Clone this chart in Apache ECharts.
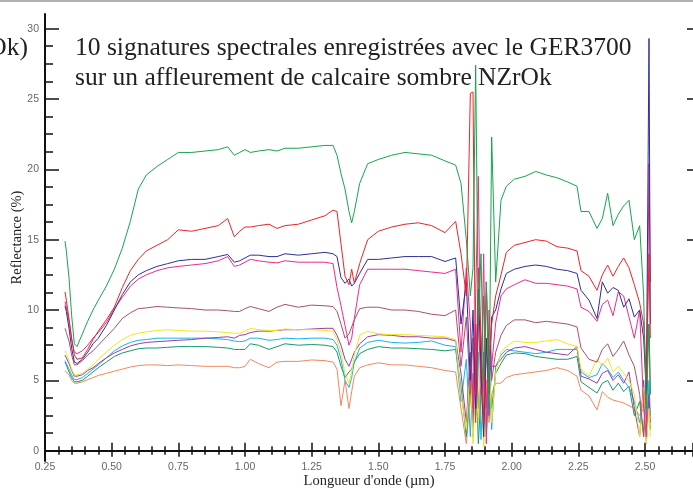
<!DOCTYPE html>
<html>
<head>
<meta charset="utf-8">
<script src="https://cdn.jsdelivr.net/npm/echarts@6/dist/echarts.min.js"></script>
<style>html,body{margin:0;padding:0;background:#fff}#c{width:693px;height:489px}</style>
</head>
<body>
<div id="c"></div>
<script>
// Wavelength (µm)
const wavelengths = [
  0.325,0.33,0.34,0.35,0.36,0.37,0.39,0.41,0.43,0.45,
  0.48,0.51,0.54,0.57,0.60,0.63,0.67,0.71,0.75,0.80,
  0.85,0.90,0.935,0.96,0.98,1.00,1.02,1.05,1.09,1.12,
  1.15,1.20,1.25,1.30,1.33,1.345,1.36,1.375,1.39,1.40,
  1.41,1.43,1.46,1.50,1.55,1.60,1.65,1.70,1.75,1.79,
  1.81,1.83,1.845,1.855,1.865,1.875,1.885,1.895,1.905,1.915,
  1.925,1.94,1.96,1.98,2.01,2.05,2.09,2.13,2.17,2.21,
  2.245,2.26,2.29,2.32,2.34,2.36,2.38,2.40,2.42,2.44,
  2.46,2.48,2.495,2.505,2.515,2.52
];
// Reflectance (%) of the 10 spectra
const green = [
  14.9,14.2,12.3,9.6,7.6,7.4,8.3,9.2,10.0,10.7,
  11.7,12.9,14.4,16.3,18.6,19.6,20.2,20.7,21.2,21.2,
  21.3,21.4,21.6,21.0,21.2,21.4,21.2,21.3,21.4,21.3,
  21.5,21.5,21.6,21.7,21.7,21.0,19.7,18.6,17.0,16.2,
  17.0,19.0,20.4,20.7,21.0,21.2,21.1,21.0,20.6,20.3,
  19.0,15.0,11.0,13.0,27.4,9.0,14.0,5.0,12.0,3.0,
  22.3,12.0,17.8,18.8,19.3,19.5,19.85,19.6,19.4,19.1,
  18.8,17.0,17.0,15.8,16.5,18.3,16.0,16.8,17.4,17.8,
  15.0,16.0,11.0,3.0,9.0,4.0
];
const red = [
  11.3,10.7,9.4,8.0,6.8,6.5,6.6,7.2,7.9,8.5,
  9.3,10.2,11.6,12.8,13.6,14.2,14.6,15.0,15.7,15.6,
  15.8,16.0,16.5,15.2,15.6,15.9,15.9,16.0,16.1,15.8,
  16.0,16.1,16.4,16.7,17.1,17.0,14.7,12.4,11.8,12.9,
  11.9,13.3,15.0,15.6,15.9,16.1,16.2,16.0,15.5,16.3,
  14.0,11.0,25.4,25.5,4.0,13.0,8.0,2.0,12.0,6.0,
  9.0,11.0,12.5,14.1,14.6,14.8,15.0,14.9,14.5,14.4,
  14.2,12.8,12.4,11.4,12.5,13.2,12.4,13.1,13.7,13.0,
  11.8,10.5,9.0,5.0,14.0,8.0
];
const navy = [
  10.3,9.9,8.7,7.3,6.3,6.2,6.5,7.0,7.6,8.0,
  8.9,10.0,11.1,12.0,12.5,12.8,13.1,13.3,13.5,13.6,
  13.6,13.8,13.95,13.4,13.5,13.7,13.9,13.9,13.8,13.8,
  14.0,13.9,14.0,14.1,14.0,13.8,12.3,11.9,12.2,11.7,
  11.9,12.6,13.6,13.6,13.7,13.8,13.8,13.8,13.45,13.7,
  9.0,12.0,5.0,10.0,3.0,11.5,6.0,1.0,8.0,4.0,
  9.5,10.0,11.5,12.6,12.9,13.1,13.2,13.1,12.9,12.8,
  12.6,11.4,10.7,9.4,12.0,11.2,11.6,11.4,10.2,10.8,
  9.5,10.0,8.0,4.0,29.3,9.0
];
const pink = [
  10.6,10.2,9.2,7.9,7.0,6.9,7.1,7.5,8.0,8.4,
  9.1,10.1,10.9,11.7,12.2,12.5,12.8,13.0,13.1,13.2,
  13.3,13.5,13.8,13.1,13.2,13.4,13.6,13.5,13.4,13.35,
  13.5,13.4,13.4,13.4,13.3,11.6,10.3,8.9,7.5,8.0,
  9.4,11.8,12.9,12.9,12.9,12.9,12.8,12.7,12.6,12.9,
  7.0,13.0,9.0,3.0,11.0,19.5,4.0,14.0,0.5,10.0,
  6.0,9.1,11.0,11.5,11.8,12.15,11.9,11.9,11.8,11.7,
  11.5,10.2,9.9,9.2,10.4,10.7,9.6,11.3,11.0,9.5,
  8.0,10.0,3.0,1.0,20.4,12.0
];
const mauve = [
  8.7,8.4,7.8,6.8,6.1,6.1,6.4,6.8,7.1,7.5,
  8.1,8.7,9.4,9.8,10.1,10.15,10.25,10.2,10.15,10.1,
  10.0,10.0,9.95,9.9,9.9,10.1,10.25,10.1,9.9,10.2,
  10.4,10.2,10.35,10.3,10.25,9.9,9.0,8.0,8.3,8.8,
  9.3,10.1,10.2,10.2,10.0,10.0,9.9,9.7,9.6,10.0,
  6.0,9.5,4.0,8.0,2.0,9.0,5.0,11.0,3.0,7.0,
  5.0,7.0,8.2,8.9,9.3,9.3,9.1,9.2,9.1,9.0,
  8.8,7.3,6.5,6.3,7.2,7.6,6.7,7.2,7.8,6.8,
  6.0,4.0,1.0,5.0,9.0,4.0
];
const yellow = [
  7.1,6.9,6.4,5.8,5.4,5.4,5.5,5.8,6.1,6.5,
  7.0,7.5,7.9,8.2,8.35,8.45,8.55,8.6,8.55,8.5,
  8.5,8.45,8.4,8.35,8.35,8.5,8.7,8.6,8.55,8.55,
  8.65,8.6,8.6,8.55,8.5,7.9,7.0,5.5,4.8,5.6,
  6.8,8.2,8.5,8.3,8.25,8.25,8.2,8.15,8.1,7.9,
  4.0,1.5,6.0,0.5,5.0,2.0,8.0,0.3,4.0,6.5,
  2.0,5.5,7.0,7.4,7.8,7.7,7.7,7.8,7.9,7.6,
  7.4,5.8,5.3,6.5,6.0,6.6,5.6,6.0,5.5,5.0,
  4.0,1.0,4.5,0.5,3.0,1.0
];
const purple = [
  6.8,6.6,6.2,5.7,5.3,5.3,5.4,5.7,5.9,6.2,
  6.6,6.95,7.2,7.45,7.6,7.7,7.75,7.8,7.85,7.9,
  8.0,8.05,8.1,8.0,8.2,8.25,8.4,8.5,8.5,8.55,
  8.6,8.6,8.65,8.7,8.7,8.2,7.5,6.5,6.0,6.5,
  7.0,7.6,8.1,8.25,8.2,8.1,8.1,8.0,8.0,7.8,
  5.5,2.0,7.0,1.0,9.0,3.0,6.0,1.5,7.5,2.5,
  6.0,6.0,6.5,7.0,7.3,7.4,7.2,7.0,6.9,6.8,
  7.4,5.3,5.1,4.8,5.5,5.7,5.0,5.4,4.8,5.6,
  3.0,1.0,5.0,0.5,4.0,2.0
];
const cyan = [
  6.4,6.2,5.8,5.4,5.05,5.05,5.2,5.5,5.8,6.1,
  6.6,7.1,7.45,7.7,7.85,7.9,8.0,8.0,8.0,8.0,
  8.0,7.95,7.9,7.8,7.75,7.8,8.0,8.0,7.85,7.9,
  8.0,7.95,8.0,8.0,7.9,7.5,6.5,5.0,4.5,5.2,
  6.3,7.3,7.7,7.85,7.7,7.65,7.7,7.8,7.5,7.4,
  3.5,6.5,1.0,5.5,2.5,7.0,0.8,5.0,2.0,6.0,
  1.5,6.0,6.8,7.2,7.1,7.0,6.9,7.0,7.2,7.2,
  7.2,5.6,5.2,5.4,6.2,5.8,5.2,5.6,5.0,4.5,
  3.5,2.0,4.0,1.5,5.0,2.5
];
const teal = [
  6.3,6.1,5.6,5.2,4.9,4.9,5.0,5.3,5.6,5.9,
  6.3,6.7,6.95,7.1,7.25,7.3,7.3,7.35,7.4,7.4,
  7.4,7.35,7.3,7.2,7.2,7.2,7.6,7.5,7.2,7.4,
  7.6,7.5,7.55,7.5,7.4,7.0,6.0,5.2,5.6,5.8,
  6.3,6.9,7.2,7.4,7.3,7.3,7.25,7.2,7.1,7.2,
  4.5,1.0,5.0,2.0,6.5,0.5,4.0,7.0,1.0,5.0,
  3.0,5.5,6.2,6.8,6.95,6.9,6.7,6.6,6.5,6.5,
  6.7,4.9,4.5,4.1,4.8,5.0,4.3,4.8,4.2,4.6,
  2.5,3.5,1.0,6.0,3.0,1.5
];
const orange = [
  5.7,5.6,5.4,5.0,4.8,4.8,4.9,5.05,5.2,5.35,
  5.5,5.65,5.8,5.95,6.05,6.1,6.1,6.05,6.1,6.05,
  6.0,6.0,6.0,5.9,5.9,6.0,6.5,6.2,5.9,6.3,
  6.35,6.35,6.45,6.4,6.3,5.8,3.2,5.0,3.0,4.2,
  5.3,5.9,6.1,6.25,6.1,6.1,6.0,5.9,5.7,5.6,
  3.0,0.5,4.0,1.5,5.0,2.0,4.5,1.0,5.0,2.0,
  4.0,4.8,4.8,5.2,5.4,5.5,5.6,5.7,5.9,5.7,
  5.3,4.3,3.9,2.9,4.2,3.8,3.6,3.5,3.4,3.2,
  3.0,2.5,3.0,4.0,2.5,3.0
];
const seriesNames = ['Spectre 1','Spectre 2','Spectre 3','Spectre 4','Spectre 5','Spectre 6','Spectre 7','Spectre 8','Spectre 9','Spectre 10'];
const seriesValues = [orange, teal, cyan, purple, yellow, mauve, pink, navy, red, green];
const seriesColors = ['#f4875a','#149a6c','#1ab2ee','#9b3ca4','#f2e61c','#aa4f72','#ee2a8c','#2c2f9c','#ee2424','#16a64c'];
const yMajorTicks = [0,5,10,15,20,25,30];
const yMinorTicks = [1.25,2.5,3.75,6.25,7.5,8.75,11.25,12.5,13.75,16.25,17.5,18.75,21.25,22.5,23.75,26.25,27.5,28.75];

const chart = echarts.init(document.getElementById('c'));
const serif = '"Liberation Serif","DejaVu Serif",serif';
const sans = '"Liberation Sans",Arial,sans-serif';
const X_MIN = 0.25, X_MAX = 2.68, Y_MIN = -0.73, Y_MAX = 31.04;

const xFmt = v => (Math.abs(v / 0.25 - Math.round(v / 0.25)) < 1e-6 && v <= 2.5 + 1e-9) ? v.toFixed(2) : '';

chart.setOption({
  animation: false,
  backgroundColor: '#fff',
  title: [
    {
      text: '10 signatures spectrales enregistrées avec le GER3700\nsur un affleurement de calcaire sombre NZrOk',
      left: 75, top: 33, padding: 0,
      textStyle: { fontFamily: serif, fontSize: 25.5, fontWeight: 'normal', color: '#222', lineHeight: 30 }
    },
    {
      text: '(NZrOk)', right: 665, top: 33, padding: 0,
      textStyle: { fontFamily: serif, fontSize: 25.5, fontWeight: 'normal', color: '#222', lineHeight: 30 }
    }
  ],
  graphic: [{
    type: 'line', shape: { x1: 0, y1: 1, x2: 693, y2: 1 },
    style: { stroke: '#9a9a9a', lineWidth: 1.5 }, silent: true
  }],
  grid: { left: 45, right: 0, top: 14, bottom: 28, containLabel: false, outerBoundsMode: 'none' },
  xAxis: [
    {
      type: 'value', min: X_MIN, max: X_MAX, interval: 0.25, position: 'bottom',
      name: "Longueur d'onde (µm)", nameLocation: 'middle', nameGap: 13, nameMoveOverlap: false,
      nameTextStyle: { fontFamily: serif, fontSize: 14.5, color: '#222' },
      axisLine: { show: true, lineStyle: { color: '#111', width: 2 } },
      axisTick: { show: true, inside: true, length: 8, lineStyle: { color: '#111', width: 1.5 } },
      minorTick: { show: true, splitNumber: 5, length: 4.5, lineStyle: { color: '#111', width: 1.5 } },
      axisLabel: { formatter: xFmt, fontFamily: sans, fontSize: 10.5, color: '#666', margin: 1 },
      splitLine: { show: false }
    },
    {
      type: 'value', min: X_MIN, max: X_MAX, interval: 0.25, position: 'top',
      axisLine: { show: true, lineStyle: { color: '#111', width: 2 } },
      axisTick: { show: true, inside: true, length: 6, lineStyle: { color: '#111', width: 1.5 } },
      minorTick: { show: true, splitNumber: 5, length: 4, lineStyle: { color: '#111', width: 1.5 } },
      axisLabel: { show: false },
      splitLine: { show: false }
    }
  ],
  yAxis: [
    {
      type: 'value', min: Y_MIN, max: Y_MAX, position: 'left',
      name: 'Reflectance (%)', nameLocation: 'middle', nameGap: 20, nameRotate: 90, nameMoveOverlap: false,
      nameTextStyle: { fontFamily: serif, fontSize: 14.5, color: '#222' },
      axisLine: { show: true, lineStyle: { color: '#111', width: 2 } },
      axisTick: { show: true, inside: true, length: 14, customValues: yMajorTicks, lineStyle: { color: '#111', width: 1.5 } },
      axisLabel: { customValues: yMajorTicks, fontFamily: sans, fontSize: 10.5, color: '#666', margin: 6 },
      splitLine: { show: false }
    },
    {
      type: 'value', min: Y_MIN, max: Y_MAX, position: 'left',
      axisLine: { show: false },
      axisTick: { show: true, inside: true, length: 8, customValues: yMinorTicks, lineStyle: { color: '#111', width: 1.5 } },
      axisLabel: { show: false },
      splitLine: { show: false }
    },
    {
      type: 'value', min: Y_MIN, max: Y_MAX, position: 'right',
      axisLine: { show: false },
      axisTick: { show: true, inside: true, length: 6, customValues: yMajorTicks, lineStyle: { color: '#111', width: 1.5 } },
      axisLabel: { show: false },
      splitLine: { show: false }
    }
  ],
  series: seriesValues.map((vals, k) => ({
    name: seriesNames[k],
    type: 'line',
    xAxisIndex: 0, yAxisIndex: 0,
    showSymbol: false, symbol: 'none',
    data: wavelengths.map((w, i) => [w, vals[i]]),
    lineStyle: { color: seriesColors[k], width: 1 },
    itemStyle: { color: seriesColors[k] },
    clip: true
  }))
});
</script>
</body>
</html>
